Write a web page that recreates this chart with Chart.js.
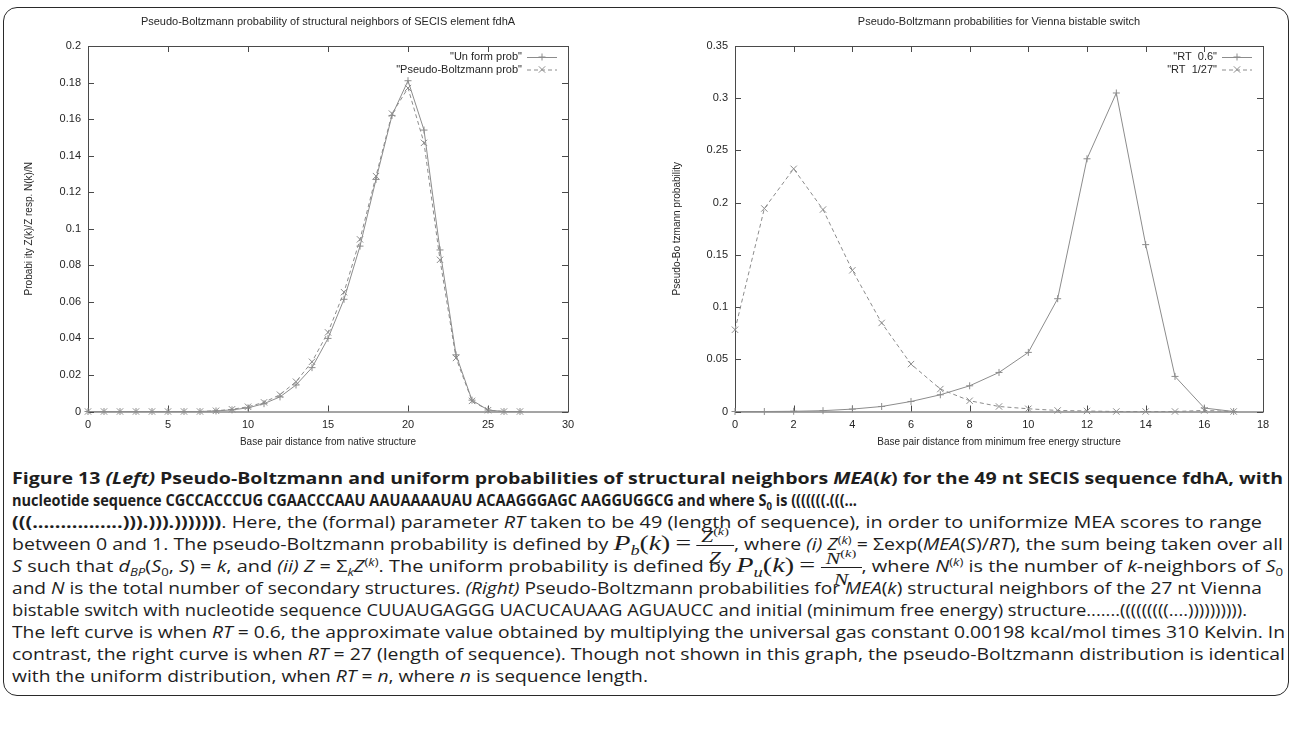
<!DOCTYPE html>
<html>
<head>
<meta charset="utf-8">
<script src="https://cdn.jsdelivr.net/npm/chart.js@4.4.1/dist/chart.umd.min.js"></script>
<style>
  html, body { margin: 0; padding: 0; background: #fff; }
  body { width: 1292px; height: 731px; position: relative; overflow: hidden; }
  #frame { position: absolute; left: 3px; top: 7px; width: 1286px; height: 689px; box-sizing: border-box;
           border: 1.5px solid #2a2a2a; border-radius: 14px; }
  canvas { position: absolute; top: 0; }
  #caption { position: absolute; left: 12px; top: 467px; font-family: 'Open Sans', 'Noto Sans', sans-serif;
             font-size: 15.5px; color: #1e1e1e; }
  .ln { position: absolute; left: 0; white-space: nowrap; line-height: 22px; height: 22px;
        transform-origin: 0 50%; display: inline-block; }
  .b { font-weight: bold; }
  sub, sup { font-size: 0.66em; line-height: 0; }
  .mt { font-family: 'Liberation Serif', 'DejaVu Serif', serif; font-size: 22px; line-height: 0; }
  .fr { display: inline-block; position: relative; height: 0; vertical-align: baseline;
        font-family: 'Liberation Serif', 'DejaVu Serif', serif; font-size: 17px; }
  .fr .nu { position: absolute; left: 0; right: 0; bottom: 4px; line-height: 17px; text-align: center;
            border-bottom: 1px solid #1e1e1e; }
  .fr .de { position: absolute; left: 0; right: 0; top: -1px; line-height: 17px; text-align: center; }
</style>
</head>
<body>
<div id="frame"></div>
<canvas id="leftChart" width="640" height="460" style="left:0"></canvas>
<canvas id="rightChart" width="652" height="460" style="left:640px"></canvas>

<div id="caption">
  <div class="ln b" data-fit="1271" style="top:0px">Figure 13 <i>(Left)</i> Pseudo-Boltzmann and uniform probabilities of structural neighbors <i>MEA</i>(<i>k</i>) for the 49 nt SECIS sequence fdhA, with</div>
  <div class="ln b" data-fit="845" style="top:22px">nucleotide sequence CGCCACCCUG CGAACCCAAU AAUAAAAUAU ACAAGGGAGC AAGGUGGCG and where S<sub>0</sub> is (((((((.(((...</div>
  <div class="ln" data-fit="1250" style="top:44px"><b>(((................))).))).)))))))</b>. Here, the (formal) parameter <i>RT</i> taken to be 49 (length of sequence), in order to uniformize MEA scores to range</div>
  <div class="ln" data-fit="1271" style="top:66px">between 0 and 1. The pseudo-Boltzmann probability is defined by <span class="mt"><i>P<sub>b</sub></i>(<i>k</i>)</span> <span class="mt">=</span> <span class="fr" style="width:30px"><span class="nu"><i>Z</i><sup>(<i>k</i>)</sup></span><span class="de"><i>Z</i></span></span>, where <i>(i) Z</i><sup>(<i>k</i>)</sup> = &Sigma;exp(<i>MEA</i>(<i>S</i>)/<i>RT</i>), the sum being taken over all</div>
  <div class="ln" data-fit="1271" style="top:88px"><i>S</i> such that <i>d<sub>BP</sub></i>(<i>S</i><sub>0</sub>, <i>S</i>) = <i>k</i>, and <i>(ii) Z</i> = &Sigma;<sub><i>k</i></sub><i>Z</i><sup>(<i>k</i>)</sup>. The uniform probability is defined by <span class="mt"><i>P<sub>u</sub></i>(<i>k</i>)</span> <span class="mt">=</span> <span class="fr" style="width:32px"><span class="nu"><i>N</i><sup>(<i>k</i>)</sup></span><span class="de"><i>N</i></span></span>, where <i>N</i><sup>(<i>k</i>)</sup> is the number of <i>k</i>-neighbors of <i>S</i><sub>0</sub></div>
  <div class="ln" data-fit="1250" style="top:110px">and <i>N</i> is the total number of secondary structures. <i>(Right)</i> Pseudo-Boltzmann probabilities for <i>MEA</i>(<i>k</i>) structural neighbors of the 27 nt Vienna</div>
  <div class="ln" data-fit="1235" style="top:132px">bistable switch with nucleotide sequence CUUAUGAGGG UACUCAUAAG AGUAUCC and initial (minimum free energy) structure.......(((((((((....)))))))))).</div>
  <div class="ln" data-fit="1273" style="top:154px">The left curve is when <i>RT</i> = 0.6, the approximate value obtained by multiplying the universal gas constant 0.00198 kcal/mol times 310 Kelvin. In</div>
  <div class="ln" data-fit="1273" style="top:176px">contrast, the right curve is when <i>RT</i> = 27 (length of sequence). Though not shown in this graph, the pseudo-Boltzmann distribution is identical</div>
  <div class="ln" data-ref="7" style="top:198px">with the uniform distribution, when <i>RT</i> = <i>n</i>, where <i>n</i> is sequence length.</div>
</div>

<script>
'use strict';

// ── DATA ──────────────────────────────────────────────────────

// Left: SECIS element fdhA
const fdhaK        = [0, 1, 2, 3, 4, 5, 6, 7, 8, 9, 10, 11, 12, 13, 14, 15, 16, 17, 18, 19, 20, 21, 22, 23, 24, 25, 26, 27];
const uniformProb  = [0, 0, 0, 0, 0, 0, 0, 0, 0.0003, 0.0009, 0.002, 0.0043, 0.008, 0.0145, 0.024, 0.040,
                      0.0614, 0.0905, 0.127, 0.162, 0.181, 0.154, 0.0884, 0.031, 0.0062, 0.0008, 0, 0];
const boltzProb    = [0, 0, 0, 0, 0, 0, 0, 0, 0.0004, 0.0012, 0.0026, 0.005, 0.0092, 0.0163, 0.0272, 0.0433,
                      0.0653, 0.0942, 0.1288, 0.163, 0.177, 0.147, 0.083, 0.0293, 0.0058, 0.0007, 0, 0];
const leftLabels   = ['"Un form prob"', '"Pseudo-Boltzmann prob"'];
const leftXTicks   = [0, 5, 10, 15, 20, 25, 30];
const leftYTicks   = [0, 0.02, 0.04, 0.06, 0.08, 0.1, 0.12, 0.14, 0.16, 0.18, 0.2];

// Right: Vienna bistable switch
const viennaK      = [0, 1, 2, 3, 4, 5, 6, 7, 8, 9, 10, 11, 12, 13, 14, 15, 16, 17];
const rt06         = [0, 0, 0.0002, 0.0008, 0.0023, 0.0048, 0.0096, 0.016, 0.0246, 0.0374, 0.0566,
                      0.108, 0.242, 0.305, 0.1598, 0.0336, 0.0033, 0];
const rt127        = [0.0783, 0.1944, 0.2324, 0.1934, 0.1352, 0.0848, 0.0454, 0.0215, 0.0103, 0.0048,
                      0.0026, 0.001, 0.0005, 0, 0, 0, 0.001, 0];
const rightLabels  = ['"RT  0.6"', '"RT  1/27"'];
const rightXTicks  = [0, 2, 4, 6, 8, 10, 12, 14, 16, 18];
const rightYTicks  = [0, 0.05, 0.1, 0.15, 0.2, 0.25, 0.3, 0.35];

// ── STYLE ─────────────────────────────────────────────────────

const LINE  = '#8c8c8c';
const FRAME = '#4a4a4a';
const TEXT  = '#262626';
const FONT  = "'Liberation Sans', Arial, sans-serif";

Chart.defaults.font.family = FONT;
Chart.defaults.color = TEXT;

const fmt = v => String(+Number(v).toFixed(3));
const pts = (xs, ys) => xs.map((x, i) => ({ x, y: ys[i] }));

// gnuplot look: full frame, inward mirrored ticks, title and key
const gnuFrame = {
  id: 'gnuFrame',
  beforeDatasetsDraw(chart) {
    const { ctx, chartArea: a, scales: { x, y } } = chart;
    ctx.save();
    ctx.strokeStyle = FRAME;
    ctx.lineWidth = 1;
    ctx.strokeRect(a.left + 0.5, a.top + 0.5, a.right - a.left, a.bottom - a.top);
    ctx.beginPath();
    x.ticks.forEach(t => {
      const px = Math.round(x.getPixelForValue(t.value)) + 0.5;
      ctx.moveTo(px, a.bottom); ctx.lineTo(px, a.bottom - 6);
      ctx.moveTo(px, a.top);    ctx.lineTo(px, a.top + 6);
    });
    y.ticks.forEach(t => {
      const py = Math.round(y.getPixelForValue(t.value)) + 0.5;
      ctx.moveTo(a.left, py);  ctx.lineTo(a.left + 6, py);
      ctx.moveTo(a.right, py); ctx.lineTo(a.right - 6, py);
    });
    ctx.stroke();
    ctx.restore();
  },
  afterDatasetsDraw(chart, args, opts) {
    const { ctx, chartArea: a } = chart;
    ctx.save();
    ctx.fillStyle = TEXT;
    ctx.font = '11px ' + FONT;
    ctx.textBaseline = 'middle';
    ctx.textAlign = 'center';
    ctx.fillText(opts.title, (a.left + a.right) / 2, 22);

    chart.data.datasets.forEach((ds, i) => {
      const yy = a.top + 11 + i * 12.5;
      ctx.textAlign = 'right';
      ctx.fillStyle = TEXT;
      ctx.fillText(ds.label, a.right - 46, yy);
      ctx.strokeStyle = LINE;
      ctx.lineWidth = 1;
      ctx.setLineDash(ds.borderDash || []);
      ctx.beginPath();
      ctx.moveTo(a.right - 41, yy + 0.5); ctx.lineTo(a.right - 11, yy + 0.5);
      ctx.stroke();
      ctx.setLineDash([]);
      const cx = a.right - 26, r = ds.pointStyle === 'cross' ? 3.5 : 3.2;
      ctx.beginPath();
      if (ds.pointStyle === 'cross') {
        ctx.moveTo(cx - r, yy); ctx.lineTo(cx + r, yy);
        ctx.moveTo(cx, yy - r); ctx.lineTo(cx, yy + r);
      } else {
        ctx.moveTo(cx - r, yy - r); ctx.lineTo(cx + r, yy + r);
        ctx.moveTo(cx - r, yy + r); ctx.lineTo(cx + r, yy - r);
      }
      ctx.stroke();
    });
    ctx.restore();
  },
};

function gnuplotChart(id, o) {
  return new Chart(document.getElementById(id), {
    type: 'line',
    data: {
      datasets: o.series.map((s, i) => ({
        label: o.labels[i],
        data: pts(o.xs, s),
        borderColor: LINE,
        borderWidth: 1,
        borderDash: i === 0 ? [] : [4, 3],
        pointStyle: i === 0 ? 'cross' : 'crossRot',
        pointRadius: i === 0 ? 3.5 : 4.5,
        pointBorderColor: LINE,
        pointBorderWidth: 1,
        pointBackgroundColor: 'transparent',
        tension: 0,
        fill: false,
        clip: false,
      })),
    },
    options: {
      responsive: false,
      animation: false,
      devicePixelRatio: 1,
      layout: { padding: { top: 46, right: o.padRight, left: 0, bottom: 0 } },
      plugins: {
        legend: { display: false },
        tooltip: { enabled: false },
        gnuFrame: { title: o.title },
      },
      scales: {
        x: {
          type: 'linear', min: o.xTicks[0], max: o.xTicks[o.xTicks.length - 1],
          grid: { display: false, drawTicks: false },
          border: { display: false },
          afterBuildTicks: s => { s.ticks = o.xTicks.map(value => ({ value })); },
          afterFit: s => { s.height = 48.5; },
          ticks: { padding: 7, color: TEXT, font: { size: 11 }, callback: fmt, autoSkip: false, maxRotation: 0 },
          title: { display: true, text: o.xTitle, color: TEXT, font: { size: 10 }, padding: { top: 0, bottom: 11.5 } },
        },
        y: {
          type: 'linear', min: o.yTicks[0], max: o.yTicks[o.yTicks.length - 1],
          grid: { display: false, drawTicks: false },
          border: { display: false },
          afterBuildTicks: s => { s.ticks = o.yTicks.map(value => ({ value })); },
          afterFit: s => { s.width = o.yWidth; },
          ticks: { padding: 7, color: TEXT, font: { size: 11 }, callback: fmt, autoSkip: false },
          title: { display: true, text: o.yTitle, color: TEXT, font: { size: 10 }, padding: { top: o.yTitlePad, bottom: 0 } },
        },
      },
    },
    plugins: [gnuFrame],
  });
}

gnuplotChart('leftChart', {
  title: 'Pseudo-Boltzmann probability of structural neighbors of SECIS element fdhA',
  xTitle: 'Base pair distance from native structure',
  yTitle: 'Probabi ity Z(k)/Z resp. N(k)/N',
  xs: fdhaK, series: [uniformProb, boltzProb], labels: leftLabels,
  xTicks: leftXTicks, yTicks: leftYTicks,
  yWidth: 88, yTitlePad: 23, padRight: 72,
});

gnuplotChart('rightChart', {
  title: 'Pseudo-Boltzmann probabilities for Vienna bistable switch',
  xTitle: 'Base pair distance from minimum free energy structure',
  yTitle: 'Pseudo-Bo tzmann probability',
  xs: viennaK, series: [rt06, rt127], labels: rightLabels,
  xTicks: rightXTicks, yTicks: rightYTicks,
  yWidth: 95, yTitlePad: 31, padRight: 29,
});

// ── CAPTION: fit each line to the width it has in the figure ──

function fitCaption() {
  const lines = [...document.querySelectorAll('#caption .ln')];
  const scales = lines.map(el => {
    const target = +el.dataset.fit;
    return target ? target / el.getBoundingClientRect().width : null;
  });
  lines.forEach((el, i) => {
    const s = scales[i] !== null ? scales[i] : scales[+el.dataset.ref];
    el.style.transform = 'scaleX(' + s + ')';
  });
}
(document.fonts ? document.fonts.ready : Promise.resolve()).then(fitCaption);
</script>
</body>
</html>
